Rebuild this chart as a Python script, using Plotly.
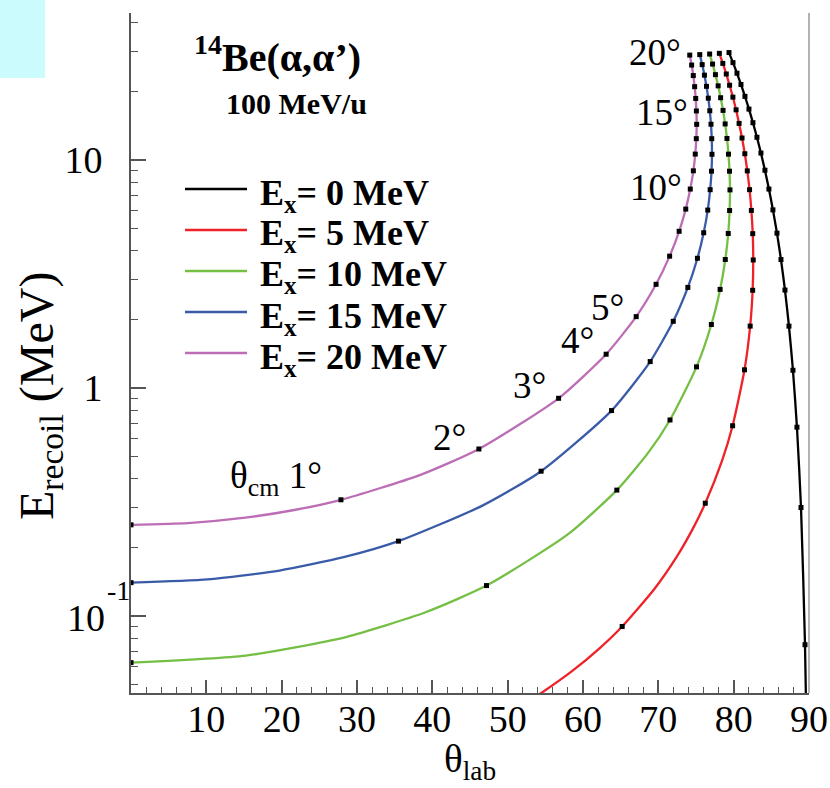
import plotly.graph_objects as go

# ---------------- data ----------------
ex_labels = ["0", "5", "10", "15", "20"]
colors = ["#000000", "#ee2229", "#74bf44", "#3a5ba8", "#bc6db6"]

# theta_cm (deg) of each sampled point; integer values carry a dot
cm_ex0 = [0.75, 1, 2, 3, 4, 5, 6, 7, 8, 9, 10, 11, 12, 13, 14, 15, 16, 17, 18, 19, 20]
lab_ex0 = [89.60, 89.47, 88.94, 88.40, 87.87, 87.34, 86.81, 86.28, 85.75, 85.21, 84.68,
           84.15, 83.62, 83.09, 82.56, 82.03, 81.50, 80.97, 80.44, 79.91, 79.38]
e_ex0 = [0.0421, 0.0748, 0.299, 0.673, 1.196, 1.868, 2.689, 3.659, 4.778, 6.044, 7.458,
         9.021, 10.73, 12.58, 14.58, 16.73, 19.02, 21.45, 24.03, 26.75, 29.61]

cm_ex5 = [0.5, 0.6, 0.65, 0.75, 0.875, 1, 1.25, 1.5, 1.75, 2, 2.5, 3, 4, 5, 6, 7, 8, 9, 10,
          11, 12, 13, 14, 15, 16, 17, 18, 19, 20]
lab_ex5 = [47.68, 52.76, 54.90, 58.58, 62.27, 65.20, 69.50, 72.47, 74.62, 76.23, 78.45, 79.86,
           81.44, 82.19, 82.52, 82.60, 82.53, 82.35, 82.11, 81.81, 81.48, 81.11, 80.72, 80.32,
           79.90, 79.46, 79.02, 78.56, 78.10]
e_ex5 = [0.0342, 0.0424, 0.0470, 0.0574, 0.0725, 0.0899, 0.1316, 0.1825, 0.2428, 0.3123, 0.4791,
         0.6829, 1.2016, 1.8683, 2.6827, 3.6446, 4.7537, 6.0096, 7.4120, 8.9615, 10.655, 12.494,
         14.477, 16.605, 18.875, 21.289, 23.844, 26.540, 29.376]

cm_ex10 = [0, 0.25, 0.5, 0.75, 1, 1.5, 2, 2.5, 3, 4, 5, 6, 7, 8, 9, 10, 11, 12, 13, 14, 15, 16,
           17, 18, 19, 20]
lab_ex10 = [0, 15.24, 28.54, 39.10, 47.19, 57.98, 64.49, 68.69, 71.55, 75.07, 77.04, 78.20,
            78.89, 79.28, 79.46, 79.51, 79.45, 79.31, 79.11, 78.87, 78.59, 78.27, 77.94, 77.58,
            77.20, 76.81]
e_ex10 = [0.0624, 0.0670, 0.0808, 0.1038, 0.1359, 0.2278, 0.3565, 0.5218, 0.7240, 1.2383, 1.8993,
          2.7068, 3.6606, 4.7603, 6.0056, 7.3961, 8.9325, 10.611, 12.435, 14.401, 16.511, 18.762,
          21.155, 23.689, 26.362, 29.174]

cm_ex15 = [0, 0.25, 0.5, 0.75, 1, 1.5, 2, 3, 4, 5, 6, 7, 8, 9, 10, 11, 12, 13, 14, 15, 16, 17,
           18, 19, 20]
lab_ex15 = [0, 10.18, 19.71, 28.22, 35.50, 46.58, 54.44, 63.79, 68.92, 71.98, 73.92, 75.19, 76.02,
            76.56, 76.88, 77.06, 77.12, 77.09, 76.99, 76.83, 76.63, 76.39, 76.12, 75.82, 75.50]
e_ex15 = [0.140, 0.1446, 0.1582, 0.1810, 0.2129, 0.3040, 0.4315, 0.7959, 1.3058, 1.9612, 2.7618,
          3.7074, 4.7976, 6.0322, 7.4109, 8.9341, 10.598, 12.406, 14.356, 16.448, 18.680, 21.052,
          23.564, 26.214, 29.002]

cm_ex20 = [0, 0.25, 0.5, 0.75, 1, 1.5, 2, 3, 4, 5, 6, 7, 8, 9, 10, 11, 12, 13, 14, 15, 16, 17,
           18, 19, 20]
lab_ex20 = [0, 7.57, 14.87, 21.68, 27.87, 38.25, 46.18, 56.76, 63.07, 67.06, 69.70, 71.50, 72.76,
            73.64, 74.24, 74.65, 74.90, 75.04, 75.09, 75.05, 74.96, 74.82, 74.64, 74.42, 74.17]
e_ex20 = [0.251, 0.2555, 0.2691, 0.2916, 0.3233, 0.4136, 0.5400, 0.9012, 1.4066, 2.0562, 2.8498,
          3.7871, 4.8678, 6.0917, 7.4582, 8.9681, 10.618, 12.410, 14.343, 16.416, 18.628, 20.980,
          23.470, 26.097, 28.861]

curves = [(cm_ex0, lab_ex0, e_ex0), (cm_ex5, lab_ex5, e_ex5), (cm_ex10, lab_ex10, e_ex10),
          (cm_ex15, lab_ex15, e_ex15), (cm_ex20, lab_ex20, e_ex20)]

x_ticks = [10, 20, 30, 40, 50, 60, 70, 80, 90]
x_minor = [v for v in range(2, 90, 2) if v % 10]
y_ticks = [0.1, 1, 10]
y_ticktext = ["", "1", "10"]
y_minor = [0.05, 0.06, 0.07, 0.08, 0.09, 0.2, 0.3, 0.4, 0.5, 0.6, 0.7, 0.8, 0.9,
           2, 3, 4, 5, 6, 7, 8, 9, 20, 30, 40]

angle_labels = ["θ<sub>cm</sub> 1°", "2°", "3°", "4°", "5°", "10°", "15°", "20°"]

# ---------------- figure ----------------
W, H = 830, 788
ML, MR, MT, MB = 131, 21, 13, 95
PW, PH = W - ML - MR, H - MT - MB


def px(x):
    return (x - ML) / PW


def py(y):
    return (H - MB - y) / PH


FONT = "Liberation Serif"
fig = go.Figure()

for (cm, lab, en), col in zip(curves, colors):
    fig.add_trace(go.Scatter(x=lab, y=en, mode="lines",
                             line=dict(color=col, width=2.3, shape="spline", smoothing=0.6),
                             hoverinfo="skip", showlegend=False))
for (cm, lab, en), col in zip(curves, colors):
    idx = [i for i, c in enumerate(cm) if float(c).is_integer()]
    fig.add_trace(go.Scatter(x=[lab[i] for i in idx], y=[en[i] for i in idx], mode="markers",
                             marker=dict(color="black", size=5, symbol="square"),
                             hoverinfo="skip", showlegend=False))

fig.update_layout(
    width=W, height=H, margin=dict(l=ML, r=MR, t=MT, b=MB, autoexpand=False),
    paper_bgcolor="white", plot_bgcolor="white",
    font=dict(family=FONT, color="black"),
    xaxis=dict(range=[0, 90], tickvals=x_ticks, ticks="inside", ticklen=13, tickwidth=1.5,
               tickcolor="#555", showline=True, linecolor="#555", linewidth=2, automargin=False,
               showgrid=False, zeroline=False, tickfont=dict(size=38, family=FONT),
               ticklabelstandoff=-9,
               minor=dict(tickvals=x_minor, ticks="inside", ticklen=6, tickwidth=1.3, tickcolor="#555")),
    yaxis=dict(type="log", range=[-1.338, 1.645], tickvals=y_ticks, ticktext=y_ticktext,
               ticks="inside", ticklen=15, tickwidth=1.5, tickcolor="#555", automargin=False,
               showline=True, linecolor="#555", linewidth=2, showgrid=False, zeroline=False,
               tickfont=dict(size=38, family=FONT), ticklabelstandoff=19,
               minor=dict(tickvals=y_minor, ticks="inside", ticklen=7, tickwidth=1.3, tickcolor="#555")),
)

shapes = [
    dict(type="rect", xref="paper", yref="paper", x0=px(0), x1=px(45), y0=py(78), y1=py(0),
         fillcolor="#ccfbfe", line=dict(width=0), layer="below"),
    dict(type="line", xref="paper", yref="paper", x0=1, x1=1, y0=0, y1=1,
         line=dict(color="#999", width=1.5)),
]
ann = []
# 10^-1 tick label
ann.append(dict(text="10", xref="paper", yref="paper", x=px(107), y=py(618), xanchor="right",
                yanchor="middle", showarrow=False, font=dict(size=38, family=FONT)))
ann.append(dict(text="-1", xref="paper", yref="paper", x=px(105), y=py(590), xanchor="left",
                yanchor="middle", showarrow=False, font=dict(size=28, family=FONT)))
# legend
leg_rows = [189, 230, 271, 312, 353]
for lbl, col, yr in zip(ex_labels, colors, leg_rows):
    shapes.append(dict(type="line", xref="paper", yref="paper", x0=px(185), x1=px(247),
                       y0=py(yr), y1=py(yr), line=dict(color=col, width=2.3)))
    ann.append(dict(text=f"<b>E<sub>x</sub>= {lbl} MeV</b>", xref="paper", yref="paper",
                    x=px(258), y=py(yr + 6), xanchor="left", yanchor="middle", showarrow=False,
                    font=dict(size=36, family=FONT)))

ann.append(dict(text="<b><sup>14</sup>Be(α,α’)</b>", xref="paper", yref="paper", x=px(277), y=py(54),
                xanchor="center", yanchor="middle", showarrow=False, font=dict(size=40, family=FONT)))
ann.append(dict(text="<b>100 MeV/u</b>", xref="paper", yref="paper", x=px(296), y=py(104),
                xanchor="center", yanchor="middle", showarrow=False, font=dict(size=30, family=FONT)))

label_pos = [(276, 478), (449, 437), (529, 385), (577, 341), (607, 307), (656, 188), (662, 112), (655, 52)]
for t, (xx, yy) in zip(angle_labels, label_pos):
    ann.append(dict(text=t, xref="paper", yref="paper", x=px(xx), y=py(yy), xanchor="center",
                    yanchor="middle", showarrow=False, font=dict(size=37, family=FONT)))

ann.append(dict(text="θ<sub>lab</sub>", xref="paper", yref="paper", x=px(470), y=py(761),
                xanchor="center", yanchor="middle", showarrow=False, font=dict(size=39, family=FONT)))
ann.append(dict(text="E<sub>recoil</sub> (MeV)", xref="paper", yref="paper", x=px(40), y=py(396),
                xanchor="center", yanchor="middle", textangle=-90, showarrow=False,
                font=dict(size=48, family=FONT)))

fig.update_layout(shapes=shapes, annotations=ann)
fig.write_html("out.html")
